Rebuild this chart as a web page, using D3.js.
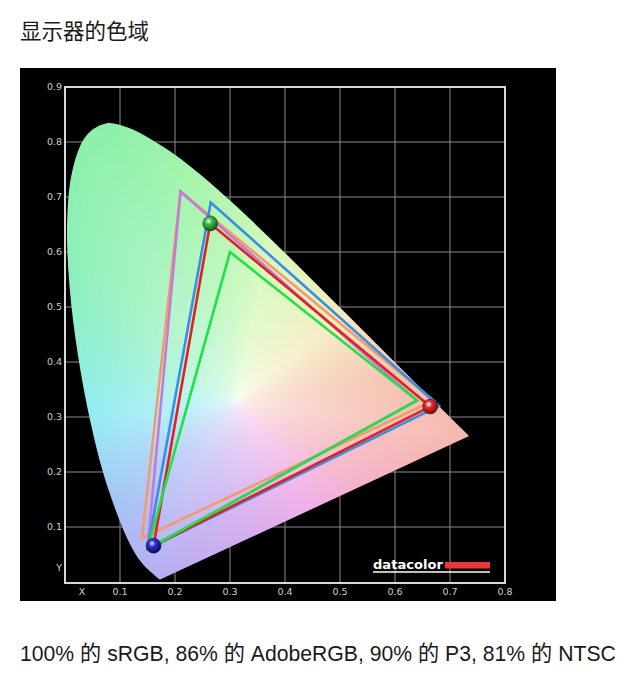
<!DOCTYPE html>
<html>
<head>
<meta charset="utf-8">
<script src="https://cdn.jsdelivr.net/npm/d3@7"></script>
<style>
  html, body { margin: 0; padding: 0; background: #fff; }
  svg { display: block; }
</style>
</head>
<body>
<svg id="chart" width="640" height="683"></svg>
<script>
// CIE 1931 2° spectral locus, 380–700 nm in 5 nm steps
const locusX = [0.1741,0.1740,0.1738,0.1736,0.1733,0.1730,0.1726,0.1721,0.1714,0.1703,
  0.1689,0.1669,0.1644,0.1611,0.1566,0.1510,0.1440,0.1355,0.1241,0.1096,
  0.0913,0.0687,0.0454,0.0235,0.0082,0.0039,0.0139,0.0389,0.0743,0.1142,
  0.1547,0.1929,0.2296,0.2658,0.3016,0.3373,0.3731,0.4087,0.4441,0.4788,
  0.5125,0.5448,0.5752,0.6029,0.6270,0.6482,0.6658,0.6801,0.6915,0.7006,
  0.7079,0.7140,0.7190,0.7230,0.7260,0.7283,0.7300,0.7311,0.7320,0.7327,
  0.7334,0.7340,0.7344,0.7346,0.7347];
const locusY = [0.0050,0.0050,0.0049,0.0049,0.0048,0.0048,0.0048,0.0048,0.0051,0.0058,
  0.0069,0.0086,0.0109,0.0138,0.0177,0.0227,0.0297,0.0399,0.0578,0.0868,
  0.1327,0.2007,0.2950,0.4127,0.5384,0.6548,0.7502,0.8120,0.8338,0.8262,
  0.8059,0.7816,0.7543,0.7243,0.6923,0.6589,0.6245,0.5896,0.5547,0.5202,
  0.4866,0.4544,0.4242,0.3965,0.3725,0.3514,0.3340,0.3197,0.3083,0.2993,
  0.2920,0.2859,0.2809,0.2770,0.2740,0.2717,0.2700,0.2689,0.2680,0.2673,
  0.2666,0.2660,0.2656,0.2654,0.2653];

// Gamut triangles (drawn in this order): primaries red, green, blue
const gamutNames = ["NTSC", "AdobeRGB", "P3", "Display", "sRGB"];
const gamutX = [
  [0.670, 0.210, 0.140],
  [0.640, 0.210, 0.150],
  [0.680, 0.265, 0.150],
  [0.664, 0.264, 0.161],
  [0.640, 0.300, 0.150]
];
const gamutY = [
  [0.330, 0.710, 0.080],
  [0.330, 0.710, 0.060],
  [0.320, 0.690, 0.060],
  [0.319, 0.652, 0.066],
  [0.330, 0.600, 0.060]
];
const displayIndex = 3;

const xTicks = [0.1, 0.2, 0.3, 0.4, 0.5, 0.6, 0.7, 0.8];
const yTicks = [0.1, 0.2, 0.3, 0.4, 0.5, 0.6, 0.7, 0.8, 0.9];
const xTickLabels = ["0.1", "0.2", "0.3", "0.4", "0.5", "0.6", "0.7", "0.8"];
const yTickLabels = ["0.1", "0.2", "0.3", "0.4", "0.5", "0.6", "0.7", "0.8", "0.9"];

const titleText = "显示器的色域";
const coverageText = "100% 的 sRGB, 86% 的 AdobeRGB, 90% 的 P3, 81% 的 NTSC";

// Hue anchors around the D65 white point (angle in degrees, chromaticity plane)
const hueAngles = [-90, -54, -24, -8.6, 8, 38, 78, 101, 115, 133, 164, 187, 221, 235, 247, 270];
const hueColors = ["#d2adee", "#f0afe6", "#f5b4be", "#f5b9af", "#f5c3af", "#f5ebbe",
  "#d7f8b9", "#a5f5aa", "#8cf0aa", "#8cf0b2", "#8eeed7", "#96ebf5", "#a5c3f5",
  "#afb6f5", "#b9acf0", "#d2adee"];

// ---- styles ----
const gamutStroke = ["#f39a6e", "#c47ad8", "#3a8ee6", "#e0221e", "#22e048"];
const markerColors = [["#ffffff", "#e03030", "#7a0808"], ["#eaffea", "#40b84a", "#145a18"], ["#e6e6ff", "#3030d8", "#0a0a60"]];
const whitePoint = [0.3127, 0.3290];

const svg = d3.select("#chart");
const W = 640, H = 683;

svg.append("rect").attr("width", W).attr("height", H).attr("fill", "#fff");

// Title
svg.append("text")
  .attr("x", 20).attr("y", 39)
  .attr("font-family", "'Noto Sans CJK SC', sans-serif")
  .attr("font-size", 21.5)
  .attr("fill", "#1a1a1a")
  .text(titleText);

// Black chart panel
svg.append("rect")
  .attr("x", 20).attr("y", 68)
  .attr("width", 536).attr("height", 533)
  .attr("fill", "#000");

const x = d3.scaleLinear().domain([0, 0.8]).range([65, 505]);
const y = d3.scaleLinear().domain([0, 0.9]).range([582, 87]);

// Grid
const grid = svg.append("g").attr("stroke", "#8a8a8a").attr("stroke-width", 1);
grid.selectAll(".vx").data(xTicks.slice(0, -1)).join("line")
  .attr("x1", d => x(d)).attr("x2", d => x(d))
  .attr("y1", y(0)).attr("y2", y(0.9));
grid.selectAll(".hy").data(yTicks.slice(0, -1)).join("line")
  .attr("x1", x(0)).attr("x2", x(0.8))
  .attr("y1", d => y(d)).attr("y2", d => y(d));

// Spectral locus polygon
const locus = locusX.map((v, i) => [v, locusY[i]]);
const locusLine = d3.line().x(d => x(d[0])).y(d => y(d[1])).curve(d3.curveCatmullRom);
const locusPath = locusLine(locus) + "Z";

const defs = svg.append("defs");
defs.append("clipPath").attr("id", "locusClip")
  .append("path").attr("d", locusPath);

// Boundary radius for each hue direction (for saturation of the fill)
const dense = [];
for (let i = 0; i < locus.length; i++) {
  const a = locus[i], b = locus[(i + 1) % locus.length];
  const n = i === locus.length - 1 ? 200 : 4;
  for (let k = 0; k < n; k++) {
    const t = k / n;
    dense.push([a[0] + (b[0] - a[0]) * t, a[1] + (b[1] - a[1]) * t]);
  }
}
function hueAngle(px, py) {
  let a = Math.atan2(py - whitePoint[1], px - whitePoint[0]) * 180 / Math.PI;
  if (a < -90) a += 360;
  return a;
}
const polar = dense.map(p => [hueAngle(p[0], p[1]), Math.hypot(p[0] - whitePoint[0], p[1] - whitePoint[1])])
  .sort((a, b) => a[0] - b[0]);
const radiusAt = d3.scaleLinear().domain(polar.map(p => p[0])).range(polar.map(p => p[1])).clamp(true);
const hueScale = d3.scaleLinear().domain(hueAngles).range(hueColors).interpolate(d3.interpolateRgb).clamp(true);

// Chromaticity fill rendered into a canvas, then clipped to the locus
const x0 = Math.floor(x(0)), x1 = Math.ceil(x(0.8));
const y0 = Math.floor(y(0.9)), y1 = Math.ceil(y(0));
const cw = x1 - x0, ch = y1 - y0;
const canvas = d3.create("canvas").attr("width", cw).attr("height", ch).node();
const ctx = canvas.getContext("2d");
const img = ctx.createImageData(cw, ch);
for (let j = 0; j < ch; j++) {
  const cy = y.invert(y0 + j + 0.5);
  for (let i = 0; i < cw; i++) {
    const cx = x.invert(x0 + i + 0.5);
    const ang = hueAngle(cx, cy);
    const r = Math.hypot(cx - whitePoint[0], cy - whitePoint[1]);
    const s = Math.min(1, r / radiusAt(ang));
    const t = 0.08 + 0.92 * Math.pow(s, 0.5);
    const c = d3.rgb(hueScale(ang));
    const k = (j * cw + i) * 4;
    img.data[k] = 255 + (c.r - 255) * t;
    img.data[k + 1] = 255 + (c.g - 255) * t;
    img.data[k + 2] = 255 + (c.b - 255) * t;
    img.data[k + 3] = 255;
  }
}
ctx.putImageData(img, 0, 0);

svg.append("image")
  .attr("x", x0).attr("y", y0)
  .attr("width", cw).attr("height", ch)
  .attr("preserveAspectRatio", "none")
  .attr("href", canvas.toDataURL())
  .attr("clip-path", "url(#locusClip)");

// Gamut triangles
const tri = d3.line().x(d => x(d[0])).y(d => y(d[1])).curve(d3.curveLinearClosed);
gamutNames.forEach((name, gi) => {
  const pts = gamutX[gi].map((v, i) => [v, gamutY[gi][i]]);
  svg.append("path")
    .attr("class", "gamut-" + name)
    .attr("d", tri(pts))
    .attr("fill", "none")
    .attr("stroke", gamutStroke[gi])
    .attr("stroke-width", 2.6)
    .attr("stroke-linejoin", "miter");
});

// Glossy markers on the display primaries
markerColors.forEach((mc, i) => {
  const g = defs.append("radialGradient").attr("id", "ball" + i)
    .attr("cx", "40%").attr("cy", "35%").attr("r", "65%");
  g.append("stop").attr("offset", "0%").attr("stop-color", mc[0]);
  g.append("stop").attr("offset", "35%").attr("stop-color", mc[1]);
  g.append("stop").attr("offset", "100%").attr("stop-color", mc[2]);
});
[0, 1, 2].forEach(i => {
  svg.append("circle")
    .attr("cx", x(gamutX[displayIndex][i])).attr("cy", y(gamutY[displayIndex][i]))
    .attr("r", 7.5)
    .attr("fill", "url(#ball" + i + ")")
    .attr("stroke", "rgba(0,0,0,0.45)")
    .attr("stroke-width", 0.8);
});

// Frame
svg.append("rect")
  .attr("x", x(0)).attr("y", y(0.9))
  .attr("width", x(0.8) - x(0)).attr("height", y(0) - y(0.9) + 1)
  .attr("fill", "none")
  .attr("stroke", "#d8d8d8")
  .attr("stroke-width", 2);

// Tick labels
const tickFont = "'DejaVu Sans', sans-serif";
svg.append("g").selectAll("text").data(xTicks).join("text")
  .attr("x", d => x(d)).attr("y", 595)
  .attr("text-anchor", "middle")
  .attr("font-family", tickFont).attr("font-size", 9.5)
  .attr("fill", "#cfcfcf")
  .text((d, i) => xTickLabels[i]);
svg.append("g").selectAll("text").data(yTicks).join("text")
  .attr("x", 62).attr("y", d => y(d) + 3)
  .attr("text-anchor", "end")
  .attr("font-family", tickFont).attr("font-size", 9.5)
  .attr("fill", "#cfcfcf")
  .text((d, i) => yTickLabels[i]);
svg.append("text").attr("x", x(0.031)).attr("y", 595)
  .attr("text-anchor", "middle")
  .attr("font-family", tickFont).attr("font-size", 9.5).attr("fill", "#cfcfcf")
  .text("X");
svg.append("text").attr("x", 62).attr("y", y(0.025) + 3)
  .attr("text-anchor", "end")
  .attr("font-family", tickFont).attr("font-size", 9.5).attr("fill", "#cfcfcf")
  .text("Y");

// datacolor mark
svg.append("text")
  .attr("x", 373).attr("y", 569)
  .attr("font-family", "'DejaVu Sans', sans-serif")
  .attr("font-weight", "bold")
  .attr("font-size", 13)
  .attr("textLength", 70)
  .attr("lengthAdjust", "spacingAndGlyphs")
  .attr("fill", "#fff")
  .text("datacolor");
svg.append("rect").attr("x", 445).attr("y", 562).attr("width", 45).attr("height", 6.5).attr("fill", "#e8383a");
svg.append("line").attr("x1", 373).attr("x2", 490).attr("y1", 572).attr("y2", 572)
  .attr("stroke", "#fff").attr("stroke-width", 1.5);

// Coverage summary
svg.append("text")
  .attr("x", 20).attr("y", 661)
  .attr("font-family", "'Liberation Sans', 'Noto Sans CJK SC', sans-serif")
  .attr("font-size", 21.2)
  .attr("fill", "#1a1a1a")
  .text(coverageText);
</script>
</body>
</html>
